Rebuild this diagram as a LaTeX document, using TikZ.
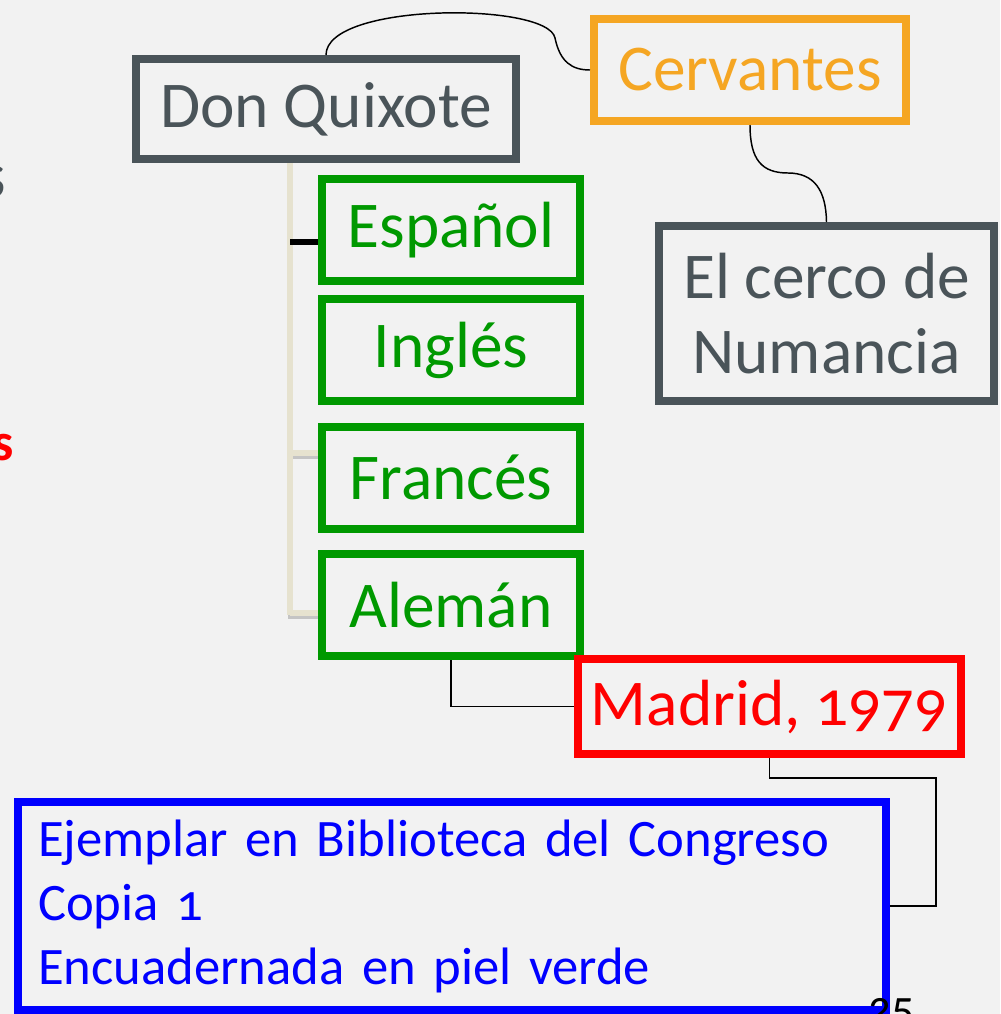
\documentclass[tikz,border=0pt]{standalone}
\usepackage{fontspec}
\setmainfont{Carlito}[Numbers=OldStyle]
\usepackage{tikz}
\usetikzlibrary{calc}
\definecolor{PageBg}{HTML}{F2F2F2}
\definecolor{SlateG}{HTML}{4A5459}
\definecolor{Amber}{HTML}{F5A623}
\definecolor{LeafG}{HTML}{009900}
\definecolor{Scarlet}{HTML}{FF0000}
\definecolor{Royal}{HTML}{0000FF}
\definecolor{Stem}{HTML}{E6E2CF}
\definecolor{StemSh}{HTML}{C4C4C4}

\begin{document}
\begin{tikzpicture}[x=0.75pt,y=-0.75pt,
  every node/.style={font=\fontsize{49}{56}\selectfont},
  bx/.style={rectangle, line width=6pt, inner sep=0pt, align=center},
  gb/.style={bx, draw=SlateG, text=SlateG},
  ob/.style={bx, draw=Amber, text=Amber},
  lb/.style={bx, draw=LeafG, text=LeafG, minimum width=193.5pt, minimum height=76.5pt},
  rb/.style={bx, draw=Scarlet, text=Scarlet},
  bb/.style={bx, draw=Royal, text=Royal, align=left, inner xsep=15pt, inner ysep=2pt},
  lnk/.style={black, line width=1.1pt},
  stm/.style={Stem, line width=4.5pt},
  stsh/.style={StemSh, line width=3pt},
]
\fill[PageBg] (0,0) rectangle (1000,1014);
\useasboundingbox (0,0) rectangle (1000,1014);

% left over letters from the slide beside
\node[anchor=east, text=SlateG, inner sep=0pt] (lt1) at (6,182) {s};
\node[anchor=east, text=Scarlet, inner sep=0pt, font=\fontsize{40}{48}\selectfont\bfseries] (lt2) at (14,448) {s};

% tree of translations
\coordinate (tTop) at (290,163);
\coordinate (tEnd) at (290,615);
\coordinate (tEsp) at (290,242);
\coordinate (tFra) at (290,453);
\coordinate (tAle) at (290,613);

\node[lb] (esp) at (451,230)   {Español};
\node[lb] (ing) at (451,350)   {Inglés};
\node[lb] (fra) at (451,477.5) {Francés};
\node[lb] (ale) at (451,605)   {Alemán};

\draw[stsh] ($(tFra)+(0,4)$) -- ($(tFra -| fra.west)+(0,4)$);
\draw[stsh] ($(tAle)+(-2,4)$) -- ($(tAle -| ale.west)+(0,4)$);
\draw[stm] (tTop) -- (tEnd);
\draw[stm] (tFra) -- (tFra -| fra.west);
\draw[stm] (tAle) -- (tAle -| ale.west);
\draw[black, line width=4.5pt] (tEsp) -- (tEsp -| esp.west);

\node[gb, minimum width=285pt, minimum height=75pt] (dq) at (326,109) {Don Quixote};
\node[ob, minimum width=234pt, minimum height=76.5pt] (cer) at (750,70) {Cervantes};
\node[gb, minimum width=251.25pt, minimum height=131.25pt] (num) at (826.5,313.5) {El cerco de\\Numancia};

\draw[lnk] (dq.north) .. controls (326,2) and (548,2) .. (555,38)
  .. controls (560,62) and (572,70) .. (cer.west);
\draw[lnk] (cer.south) .. controls (750,160) and (762,173) .. (788,173)
  .. controls (814,173) and (826,190) .. (num.north);

\node[rb, minimum width=287.25pt, minimum height=71.25pt] (mad) at (769.5,706.5) {Madrid, 1979};
\draw[lnk] (ale.south) |- (mad.west);

\node[bb, minimum width=651pt, minimum height=156pt, text width=621pt,
      font=\fontsize{39.5}{48}\selectfont\raggedright] (cop) at (452,906)
  {Ejemplar en Biblioteca del Congreso\\Copia 1\\Encuadernada en piel verde};

\coordinate (cBend) at (936,778);
\draw[lnk] (mad.south) |- (cBend) |- (cop.east);

\node[anchor=north west, inner sep=0pt, font=\fontsize{34}{40}\selectfont] (pg) at (868,998) {25};
\end{tikzpicture}
\end{document}
